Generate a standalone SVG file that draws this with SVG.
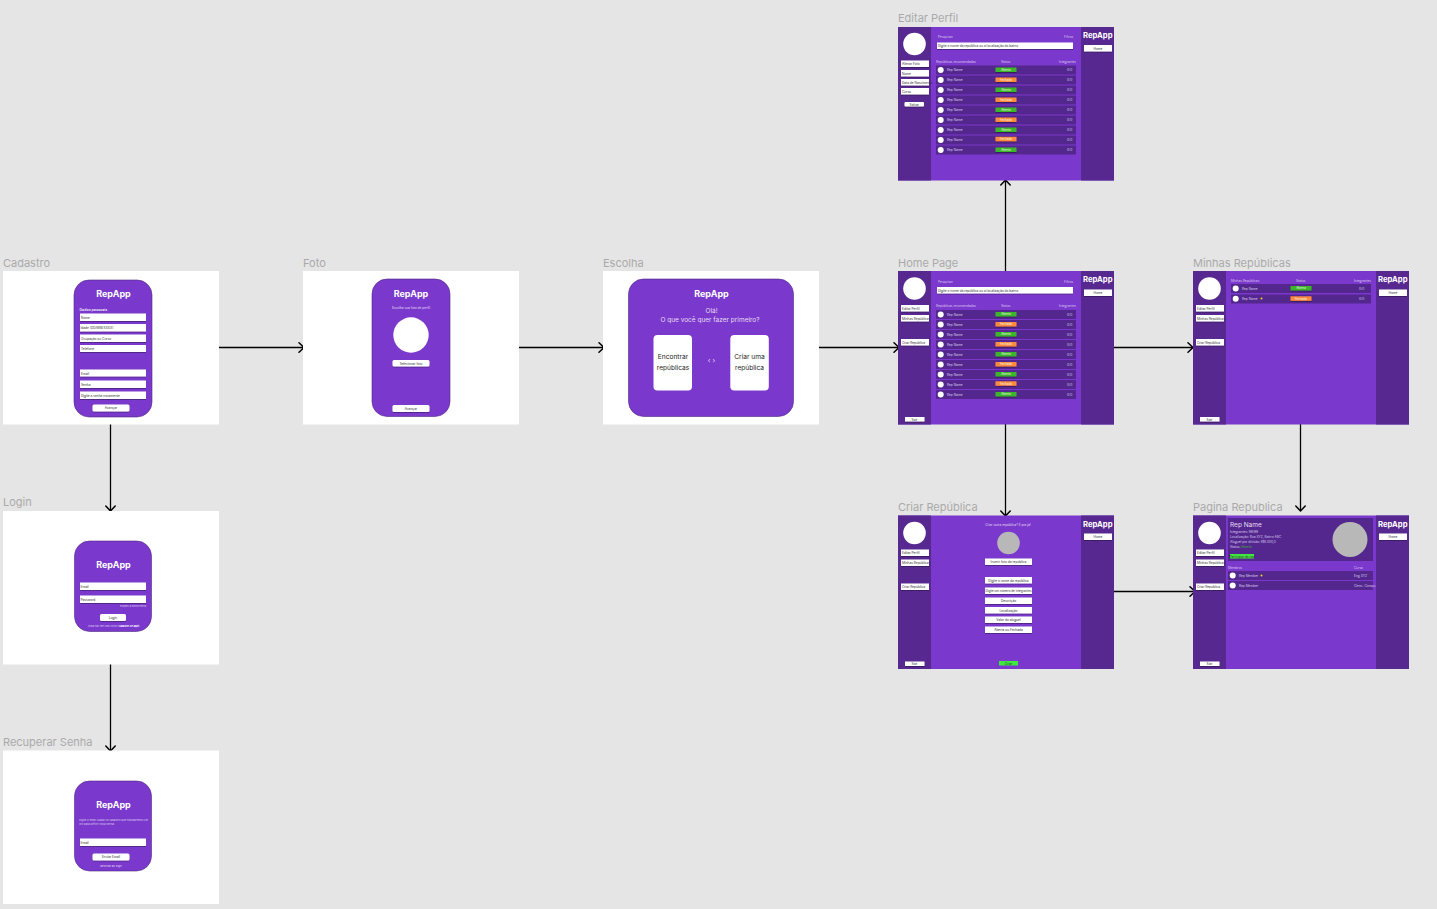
<svg xmlns="http://www.w3.org/2000/svg" width="1437" height="909" viewBox="0 0 1437 909">
<style>
text{font-family:Inter,"Liberation Sans",sans-serif}
.l{font-size:11px;fill:#aaaaaa}
.f{fill:#fff}
.p{fill:#7a38cc;stroke:#4f2a80;stroke-width:.6}
.m{fill:#7a38cc}
.d{fill:#57288f}
.r{fill:#54278f}
.b{fill:#fff;filter:url(#s)}
.ti{font-size:9px;font-weight:700;fill:#fff;text-anchor:middle}
.ts{font-size:7.700px;font-weight:700;fill:#fff}
.i{font-size:3.200px;fill:#333}
.c{font-size:3.200px;fill:#333;text-anchor:middle}
.w{font-size:3.200px;fill:#d9c9ee}
.wc{font-size:3.200px;fill:#e6dcf4;text-anchor:middle}
.g{fill:#3db52b;filter:url(#s)}
.o{fill:#ff8a3d;filter:url(#s)}
.pt{font-size:3px;fill:#e8f5e0;text-anchor:middle}
.st{fill:#f5d020}
.a{fill:none;stroke:#000;stroke-width:1.300}
.h{fill:none;stroke:#000;stroke-width:1.500;stroke-linecap:round;stroke-linejoin:round}
</style>
<defs>
<filter id="s" x="-20%" y="-40%" width="140%" height="200%"><feDropShadow dx="0" dy=".7" stdDeviation=".3" flood-color="#000" flood-opacity=".45"/></filter>
<marker id="ah" markerWidth="12" markerHeight="12" refX="8" refY="6" orient="auto" markerUnits="userSpaceOnUse"><path class="h" d="M3 1.300 L8 6 L3 10.700"/></marker>
</defs>
<rect width="1437" height="909" fill="#e5e5e5"/>

<g id="connectors">
<path class="a" marker-end="url(#ah)" d="M219 347.500H304"/>
<path class="a" marker-end="url(#ah)" d="M519 347.500H604"/>
<path class="a" marker-end="url(#ah)" d="M819 347.500H899"/>
<path class="a" marker-end="url(#ah)" d="M1114 347.500H1193"/>
<path class="a" marker-end="url(#ah)" d="M110.500 424V511"/>
<path class="a" marker-end="url(#ah)" d="M110.500 664V751"/>
<path class="a" marker-end="url(#ah)" d="M1005.500 271V180"/>
<path class="a" marker-end="url(#ah)" d="M1005.500 424V516"/>
<path class="a" marker-end="url(#ah)" d="M1300.500 424V511"/>
<path class="a" marker-end="url(#ah)" d="M1114 591.500H1195"/>
</g>

<g id="cadastro">
<text class="l" x="3" y="267">Cadastro</text>
<rect class="f" x="3" y="271" width="216" height="153.500"/>
<rect class="p" x="74" y="280" width="78" height="137" rx="15"/>
<text class="ti" x="113.500" y="297">RepApp</text>
<text x="79.500" y="310.500" font-size="3.600" font-weight="700" fill="#e6dcf4">Dados pessoais</text>
<rect class="b" x="80" y="313.500" width="66" height="7.500"/><text class="i" x="81" y="318.500">Nome</text>
<rect class="b" x="80" y="324" width="66" height="7.500"/><text class="i" x="80.500" y="329">Idade (DD/MM/XXXX)</text>
<rect class="b" x="80" y="334.500" width="66" height="7.500"/><text class="i" x="81" y="339.500">Ocupação ou Curso</text>
<rect class="b" x="80" y="345" width="66" height="7"/><text class="i" x="81" y="350">Telefone</text>
<rect class="b" x="80" y="369.500" width="66" height="7"/><text class="i" x="81" y="374.500">Email</text>
<rect class="b" x="80" y="380.500" width="66" height="7.500"/><text class="i" x="81" y="385.500">Senha</text>
<rect class="b" x="80" y="391.500" width="66" height="7.500"/><text class="i" x="81" y="396.500">Digite a senha novamente</text>
<rect class="b" x="92.500" y="404.500" width="37" height="7" rx="1.500"/><text class="c" x="111" y="409.300">Avançar</text>
</g>

<g id="login">
<text class="l" x="3" y="506">Login</text>
<rect class="f" x="3" y="511" width="216" height="153.500"/>
<rect class="p" x="74.500" y="541" width="77" height="90.500" rx="15"/>
<text class="ti" x="113.500" y="567.500">RepApp</text>
<rect class="b" x="80" y="582.500" width="66" height="7.500"/><text class="i" x="80.500" y="587.500">Email</text>
<rect class="b" x="80" y="595.500" width="66" height="7.500"/><text class="i" x="80.500" y="600.500">Password</text>
<text x="146" y="607" font-size="2.400" fill="#d9c9ee" text-anchor="end">Esqueci a minha senha</text>
<rect class="b" x="100" y="614" width="26" height="7" rx="1.500"/><text class="c" x="113" y="618.800">Login</text>
<text x="113.500" y="626.500" font-size="2.400" fill="#d9c9ee" text-anchor="middle">Ainda não tem uma conta? <tspan font-weight="700" fill="#fff">Cadastre-se aqui!</tspan></text>
</g>

<g id="recuperar-senha">
<text class="l" x="3" y="746">Recuperar Senha</text>
<rect class="f" x="3" y="750.500" width="216" height="153.500"/>
<rect class="p" x="74.500" y="781" width="77" height="90" rx="15"/>
<text class="ti" x="113.500" y="807.500">RepApp</text>
<text x="79" y="820.800" font-size="2.700" fill="#d9c9ee">Digite o email usado no cadastro que mandaremos um</text>
<text x="79" y="824.800" font-size="2.700" fill="#d9c9ee">link para definir nova senha.</text>
<rect class="b" x="80" y="838.500" width="66" height="7.500"/><text class="i" x="80.500" y="843.500">Email</text>
<rect class="b" x="92.500" y="853.500" width="37" height="7" rx="1.500"/><text class="c" x="111" y="858.300">Enviar Email</text>
<text x="111" y="867" font-size="2.700" fill="#e6dcf4" text-anchor="middle">Retornar ao login</text>
</g>

<g id="foto">
<text class="l" x="303" y="267">Foto</text>
<rect class="f" x="303" y="271" width="216" height="153.500"/>
<rect class="p" x="372" y="279" width="78" height="137.500" rx="15"/>
<text class="ti" x="411" y="297">RepApp</text>
<text class="wc" x="411" y="309">Escolha sua foto de perfil</text>
<circle class="f" cx="411" cy="335" r="17.700"/>
<rect class="b" x="392.500" y="360" width="37" height="6.500" rx="1.500"/><text class="c" x="411" y="364.500">Selecionar foto</text>
<rect class="b" x="392.500" y="405" width="37" height="7" rx="1.500"/><text class="c" x="411" y="409.800">Avançar</text>
</g>

<g id="escolha">
<text class="l" x="603" y="267">Escolha</text>
<rect class="f" x="603" y="271" width="216" height="153.500"/>
<rect class="p" x="628.500" y="279" width="165" height="137.500" rx="15"/>
<text class="ti" x="711.500" y="297">RepApp</text>
<text x="711.500" y="313" font-size="6.500" fill="#e6dcf4" text-anchor="middle">Olá!</text>
<text x="710" y="322" font-size="6.500" fill="#e6dcf4" text-anchor="middle">O que você quer fazer primeiro?</text>
<rect class="f" x="653.500" y="335" width="38.500" height="55.500" rx="4"/>
<text x="673" y="359" font-size="6.600" fill="#222" text-anchor="middle">Encontrar</text>
<text x="673" y="370" font-size="6.600" fill="#222" text-anchor="middle">repúblicas</text>
<text x="711.500" y="363" font-size="7" fill="#e6dcf4" text-anchor="middle">‹  ›</text>
<rect class="f" x="730.300" y="335" width="38.500" height="55.500" rx="4"/>
<text x="749.500" y="359" font-size="6.600" fill="#222" text-anchor="middle">Criar uma</text>
<text x="749.500" y="370" font-size="6.600" fill="#222" text-anchor="middle">república</text>
</g>

<g id="editar-perfil">
<text class="l" x="898" y="22">Editar Perfil</text>
<rect class="m" x="898" y="27" width="216" height="153.500"/>
<rect class="d" x="898" y="27" width="33" height="153.500"/>
<rect class="d" x="1081" y="27" width="33" height="153.500"/>
<circle class="f" cx="914.500" cy="44" r="11.300"/>
<rect class="b" x="901" y="60.500" width="28" height="6.500"/><text class="i" x="902" y="65">Alterar Foto</text>
<rect class="b" x="901" y="70" width="28" height="6.500"/><text class="i" x="902" y="74.500">Nome</text>
<rect class="b" x="901" y="79" width="28" height="6.500"/><text class="i" x="902" y="83.500">Data de Nascimento</text>
<rect class="b" x="901" y="88" width="28" height="6.500"/><text class="i" x="902" y="92.500">Curso</text>
<rect class="b" x="904.500" y="102" width="19.500" height="4.500" rx="1"/><text class="c" x="914.300" y="105.500">Salvar</text>
<text class="ts" x="1083" y="37.500">RepApp</text>
<rect class="b" x="1084" y="45" width="28" height="6.500"/><text class="c" x="1098" y="49.500">Home</text>
<text class="w" x="938" y="38">Pesquisar</text><text class="w" x="1064" y="38">Filtros</text>
<rect class="b" x="937" y="42.500" width="136" height="6.500"/><text class="i" x="938" y="47">Digite o nome da república ou a localização do bairro</text>
<text class="w" x="936" y="62.500">Repúblicas recomendadas</text><text class="w" x="1001" y="62.500">Status</text><text class="w" x="1059" y="62.500">Integrantes</text>
<g transform="translate(0,65.500)">
<rect class="r" x="936" y="0" width="140" height="9"/><circle class="f" cx="940.700" cy="4.500" r="3"/><text class="w" x="947" y="5.600">Rep Name</text><rect class="g" x="995.500" y="2" width="21" height="4.500"/><text class="pt" x="1006" y="5.400">Aberta</text><text class="w" x="1067" y="5.600">0/0</text>
<g transform="translate(0,10)"><rect class="r" x="936" y="0" width="140" height="9"/><circle class="f" cx="940.700" cy="4.500" r="3"/><text class="w" x="947" y="5.600">Rep Name</text><rect class="o" x="995.500" y="2" width="21" height="4.500"/><text class="pt" x="1006" y="5.400">Fechada</text><text class="w" x="1067" y="5.600">0/0</text></g>
<g transform="translate(0,20)"><rect class="r" x="936" y="0" width="140" height="9"/><circle class="f" cx="940.700" cy="4.500" r="3"/><text class="w" x="947" y="5.600">Rep Name</text><rect class="g" x="995.500" y="2" width="21" height="4.500"/><text class="pt" x="1006" y="5.400">Aberta</text><text class="w" x="1067" y="5.600">0/0</text></g>
<g transform="translate(0,30)"><rect class="r" x="936" y="0" width="140" height="9"/><circle class="f" cx="940.700" cy="4.500" r="3"/><text class="w" x="947" y="5.600">Rep Name</text><rect class="o" x="995.500" y="2" width="21" height="4.500"/><text class="pt" x="1006" y="5.400">Fechada</text><text class="w" x="1067" y="5.600">0/0</text></g>
<g transform="translate(0,40)"><rect class="r" x="936" y="0" width="140" height="9"/><circle class="f" cx="940.700" cy="4.500" r="3"/><text class="w" x="947" y="5.600">Rep Name</text><rect class="g" x="995.500" y="2" width="21" height="4.500"/><text class="pt" x="1006" y="5.400">Aberta</text><text class="w" x="1067" y="5.600">0/0</text></g>
<g transform="translate(0,50)"><rect class="r" x="936" y="0" width="140" height="9"/><circle class="f" cx="940.700" cy="4.500" r="3"/><text class="w" x="947" y="5.600">Rep Name</text><rect class="o" x="995.500" y="2" width="21" height="4.500"/><text class="pt" x="1006" y="5.400">Fechada</text><text class="w" x="1067" y="5.600">0/0</text></g>
<g transform="translate(0,60)"><rect class="r" x="936" y="0" width="140" height="9"/><circle class="f" cx="940.700" cy="4.500" r="3"/><text class="w" x="947" y="5.600">Rep Name</text><rect class="g" x="995.500" y="2" width="21" height="4.500"/><text class="pt" x="1006" y="5.400">Aberta</text><text class="w" x="1067" y="5.600">0/0</text></g>
<g transform="translate(0,70)"><rect class="r" x="936" y="0" width="140" height="9"/><circle class="f" cx="940.700" cy="4.500" r="3"/><text class="w" x="947" y="5.600">Rep Name</text><rect class="o" x="995.500" y="1.300" width="21" height="4.500"/><text class="pt" x="1006" y="4.700">Fechada</text><text class="w" x="1067" y="5.600">0/0</text></g>
<g transform="translate(0,80)"><rect class="r" x="936" y="0" width="140" height="9"/><circle class="f" cx="940.700" cy="4.500" r="3"/><text class="w" x="947" y="5.600">Rep Name</text><rect class="g" x="995.500" y="2" width="21" height="4.500"/><text class="pt" x="1006" y="5.400">Aberta</text><text class="w" x="1067" y="5.600">0/0</text></g>
</g>
</g>

<g id="home-page">
<text class="l" x="898" y="267">Home Page</text>
<rect class="m" x="898" y="271" width="216" height="153.500"/>
<rect class="d" x="898" y="271" width="33" height="153.500"/>
<rect class="d" x="1081" y="271" width="33" height="153.500"/>
<circle class="f" cx="914.500" cy="288.500" r="11.300"/>
<rect class="b" x="901" y="305" width="28" height="6.500"/><text class="i" x="902" y="309.500">Editar Perfil</text>
<rect class="b" x="901" y="315" width="28" height="6.500"/><text class="i" x="902" y="319.500">Minhas Repúblicas</text>
<rect class="b" x="901" y="339" width="28" height="6.500"/><text class="i" x="902" y="343.500">Criar República</text>
<rect class="b" x="905" y="417" width="19.500" height="4.500"/><text class="c" x="914.500" y="420.500">Sair</text>
<text class="ts" x="1083" y="282">RepApp</text>
<rect class="b" x="1084" y="289.500" width="28" height="6.500"/><text class="c" x="1098" y="294">Home</text>
<text class="w" x="938" y="282.500">Pesquisar</text><text class="w" x="1064" y="282.500">Filtros</text>
<rect class="b" x="937" y="287" width="136" height="6.500"/><text class="i" x="938" y="291.500">Digite o nome da república ou a localização do bairro</text>
<text class="w" x="936" y="307">Repúblicas recomendadas</text><text class="w" x="1001" y="307">Status</text><text class="w" x="1059" y="307">Integrantes</text>
<g transform="translate(0,310)">
<rect class="r" x="936" y="0" width="140" height="9"/><circle class="f" cx="940.700" cy="4.500" r="3"/><text class="w" x="947" y="5.600">Rep Name</text><rect class="g" x="995.500" y="2" width="21" height="4.500"/><text class="pt" x="1006" y="5.400">Aberta</text><text class="w" x="1067" y="5.600">0/0</text>
<g transform="translate(0,10)"><rect class="r" x="936" y="0" width="140" height="9"/><circle class="f" cx="940.700" cy="4.500" r="3"/><text class="w" x="947" y="5.600">Rep Name</text><rect class="o" x="995.500" y="2" width="21" height="4.500"/><text class="pt" x="1006" y="5.400">Fechada</text><text class="w" x="1067" y="5.600">0/0</text></g>
<g transform="translate(0,20)"><rect class="r" x="936" y="0" width="140" height="9"/><circle class="f" cx="940.700" cy="4.500" r="3"/><text class="w" x="947" y="5.600">Rep Name</text><rect class="g" x="995.500" y="2" width="21" height="4.500"/><text class="pt" x="1006" y="5.400">Aberta</text><text class="w" x="1067" y="5.600">0/0</text></g>
<g transform="translate(0,30)"><rect class="r" x="936" y="0" width="140" height="9"/><circle class="f" cx="940.700" cy="4.500" r="3"/><text class="w" x="947" y="5.600">Rep Name</text><rect class="o" x="995.500" y="2" width="21" height="4.500"/><text class="pt" x="1006" y="5.400">Fechada</text><text class="w" x="1067" y="5.600">0/0</text></g>
<g transform="translate(0,40)"><rect class="r" x="936" y="0" width="140" height="9"/><circle class="f" cx="940.700" cy="4.500" r="3"/><text class="w" x="947" y="5.600">Rep Name</text><rect class="g" x="995.500" y="2" width="21" height="4.500"/><text class="pt" x="1006" y="5.400">Aberta</text><text class="w" x="1067" y="5.600">0/0</text></g>
<g transform="translate(0,50)"><rect class="r" x="936" y="0" width="140" height="9"/><circle class="f" cx="940.700" cy="4.500" r="3"/><text class="w" x="947" y="5.600">Rep Name</text><rect class="o" x="995.500" y="2" width="21" height="4.500"/><text class="pt" x="1006" y="5.400">Fechada</text><text class="w" x="1067" y="5.600">0/0</text></g>
<g transform="translate(0,60)"><rect class="r" x="936" y="0" width="140" height="9"/><circle class="f" cx="940.700" cy="4.500" r="3"/><text class="w" x="947" y="5.600">Rep Name</text><rect class="g" x="995.500" y="2" width="21" height="4.500"/><text class="pt" x="1006" y="5.400">Aberta</text><text class="w" x="1067" y="5.600">0/0</text></g>
<g transform="translate(0,70)"><rect class="r" x="936" y="0" width="140" height="9"/><circle class="f" cx="940.700" cy="4.500" r="3"/><text class="w" x="947" y="5.600">Rep Name</text><rect class="o" x="995.500" y="1.300" width="21" height="4.500"/><text class="pt" x="1006" y="4.700">Fechada</text><text class="w" x="1067" y="5.600">0/0</text></g>
<g transform="translate(0,80)"><rect class="r" x="936" y="0" width="140" height="9"/><circle class="f" cx="940.700" cy="4.500" r="3"/><text class="w" x="947" y="5.600">Rep Name</text><rect class="g" x="995.500" y="2" width="21" height="4.500"/><text class="pt" x="1006" y="5.400">Aberta</text><text class="w" x="1067" y="5.600">0/0</text></g>
</g>
</g>

<g id="minhas-republicas">
<text class="l" x="1193" y="267">Minhas Repúblicas</text>
<rect class="m" x="1193" y="271" width="216" height="153.500"/>
<rect class="d" x="1193" y="271" width="33" height="153.500"/>
<rect class="d" x="1376" y="271" width="33" height="153.500"/>
<circle class="f" cx="1209.500" cy="288.500" r="11.300"/>
<rect class="b" x="1196" y="305" width="28" height="6.500"/><text class="i" x="1197" y="309.500">Editar Perfil</text>
<rect class="b" x="1196" y="315" width="28" height="6.500"/><text class="i" x="1197" y="319.500">Minhas Repúblicas</text>
<rect class="b" x="1196" y="339" width="28" height="6.500"/><text class="i" x="1197" y="343.500">Criar República</text>
<rect class="b" x="1200" y="417" width="19.500" height="4.500"/><text class="c" x="1209.500" y="420.500">Sair</text>
<text class="ts" x="1378" y="282">RepApp</text>
<rect class="b" x="1379" y="289.500" width="28" height="6.500"/><text class="c" x="1393" y="294">Home</text>
<text class="w" x="1231" y="281.500">Minhas Repúblicas</text><text class="w" x="1296" y="281.500">Status</text><text class="w" x="1354" y="281.500">Integrantes</text>
<rect class="r" x="1231" y="284" width="140" height="9"/><circle class="f" cx="1235.700" cy="288.500" r="3"/><text class="w" x="1242" y="289.600">Rep Name</text><rect class="g" x="1290.500" y="286" width="21" height="4.500"/><text class="pt" x="1301" y="289.400">Aberta</text><text class="w" x="1359" y="289.600">0/0</text>
<rect class="r" x="1231" y="294.500" width="140" height="9"/><circle class="f" cx="1235.700" cy="298.700" r="3"/><text class="w" x="1242" y="300">Rep Name</text><circle class="st" cx="1261.500" cy="298.500" r="1"/><rect class="o" x="1290.500" y="296.300" width="21" height="4.500"/><text class="pt" x="1301" y="299.700">Fechada</text><text class="w" x="1359" y="300">0/0</text>
</g>

<g id="criar-republica">
<text class="l" x="898" y="511">Criar República</text>
<rect class="m" x="898" y="515.500" width="216" height="153.500"/>
<rect class="d" x="898" y="515.500" width="33" height="153.500"/>
<rect class="d" x="1081" y="515.500" width="33" height="153.500"/>
<circle class="f" cx="914.500" cy="533" r="11.300"/>
<rect class="b" x="901" y="549.500" width="28" height="6.500"/><text class="i" x="902" y="554">Editar Perfil</text>
<rect class="b" x="901" y="559.500" width="28" height="6.500"/><text class="i" x="902" y="564">Minhas Repúblicas</text>
<rect class="b" x="901" y="583.500" width="28" height="6.500"/><text class="i" x="902" y="588">Criar República</text>
<rect class="b" x="905" y="661.500" width="19.500" height="4.500"/><text class="c" x="914.500" y="665">Sair</text>
<text class="ts" x="1083" y="526.500">RepApp</text>
<rect class="b" x="1084" y="533.500" width="28" height="6.500"/><text class="c" x="1098" y="538">Home</text>
<text class="wc" x="1008" y="526">Criar outra república? É pra já!</text>
<circle cx="1008.500" cy="543" r="11.300" fill="#b8b8b8"/>
<rect class="b" x="985" y="558.500" width="47" height="6.500"/><text class="c" x="1008.500" y="563">Inserir foto da república</text>
<rect class="b" x="985" y="577" width="47" height="6.500"/><text class="c" x="1008.500" y="581.500">Digite o nome da república</text>
<rect class="b" x="985" y="587.500" width="47" height="6.500"/><text class="c" x="1008.500" y="592" textLength="46" lengthAdjust="spacingAndGlyphs">Digite um número de integrantes</text>
<rect class="b" x="985" y="597.500" width="47" height="6.500"/><text class="c" x="1008.500" y="602">Descrição</text>
<rect class="b" x="985" y="607" width="47" height="6.500"/><text class="c" x="1008.500" y="611.500">Localização</text>
<rect class="b" x="985" y="616.500" width="47" height="6.500"/><text class="c" x="1008.500" y="621">Valor do aluguel</text>
<rect class="b" x="985" y="626.500" width="47" height="6.500"/><text class="c" x="1008.500" y="631">Aberta ou Fechada</text>
<rect x="999" y="661" width="19" height="4.500" fill="#3fe83f"/><text class="c" x="1008.500" y="664.500">Criar</text>
</g>

<g id="pagina-republica">
<text class="l" x="1193" y="511">Pagina Republica</text>
<rect class="m" x="1193" y="515.500" width="216" height="153.500"/>
<rect class="d" x="1193" y="515.500" width="33" height="153.500"/>
<rect class="d" x="1376" y="515.500" width="33" height="153.500"/>
<circle class="f" cx="1209.500" cy="533" r="11.300"/>
<rect class="b" x="1196" y="549.500" width="28" height="6.500"/><text class="i" x="1197" y="554">Editar Perfil</text>
<rect class="b" x="1196" y="559.500" width="28" height="6.500"/><text class="i" x="1197" y="564">Minhas Repúblicas</text>
<rect class="b" x="1196" y="583.500" width="28" height="6.500"/><text class="i" x="1197" y="588">Criar República</text>
<rect class="b" x="1200" y="661.500" width="19.500" height="4.500"/><text class="c" x="1209.500" y="665">Sair</text>
<text class="ts" x="1378" y="526.500">RepApp</text>
<rect class="b" x="1379" y="533.500" width="28" height="6.500"/><text class="c" x="1393" y="538">Home</text>
<rect class="r" x="1228" y="518" width="145" height="43"/>
<text x="1230" y="526.500" font-size="6.500" fill="#e6dcf4">Rep Name</text>
<text class="w" x="1230" y="533">Integrantes: 99/99</text>
<text class="w" x="1230" y="538">Localização: Rua XYZ, Bairro ABC</text>
<text class="w" x="1230" y="542.500">Aluguel por divisão: R$1.000,0</text>
<text class="w" x="1230" y="547.500">Status: <tspan fill="#3db52b">Aberta</tspan></text>
<rect x="1230" y="554" width="24" height="4.500" fill="#3fe83f"/><text class="c" x="1242" y="557.500">Participar da rep</text>
<circle cx="1350" cy="539.500" r="17.500" fill="#b8b8b8"/>
<text class="w" x="1228" y="568.500">Membros</text><text class="w" x="1354" y="568.500">Curso</text>
<rect class="r" x="1228" y="571" width="145" height="9"/><circle class="f" cx="1232.700" cy="575.500" r="3"/><text class="w" x="1239" y="576.600">Rep Member</text><circle class="st" cx="1261.500" cy="575.500" r="1"/><text class="w" x="1354" y="576.600">Eng XYZ</text>
<rect class="r" x="1228" y="581" width="145" height="9"/><circle class="f" cx="1232.700" cy="585.500" r="3"/><text class="w" x="1239" y="586.600">Rep Member</text><text class="w" x="1354" y="586.600">Cienc. Compu</text>
</g>
</svg>
